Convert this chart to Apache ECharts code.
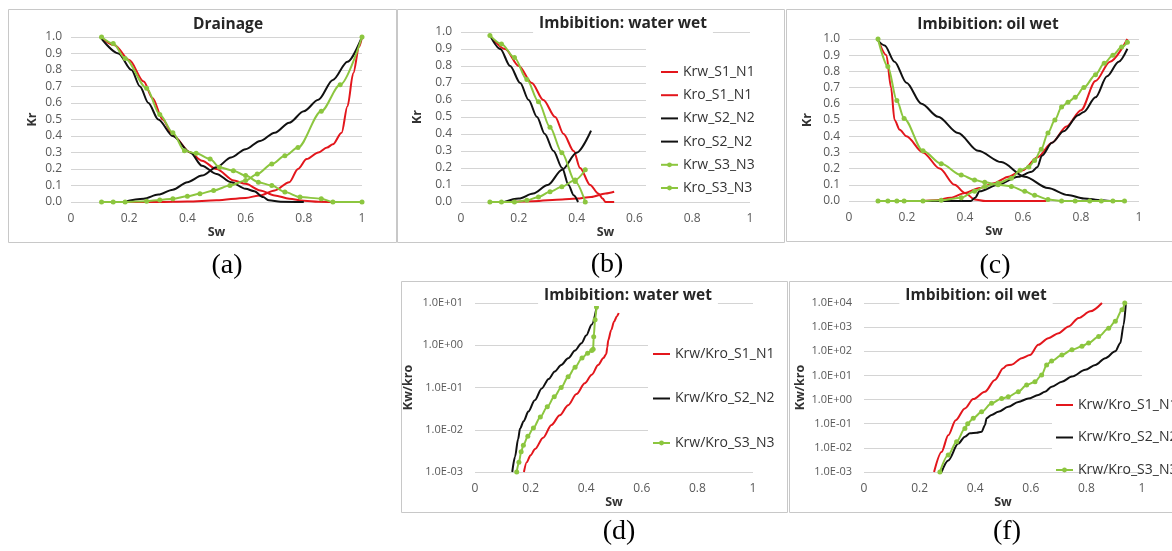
<!DOCTYPE html>
<html><head><meta charset="utf-8">
<script src="https://cdn.jsdelivr.net/npm/echarts@6/dist/echarts.min.js"></script>
<style>html,body{margin:0;padding:0;background:#fff}#c{width:1172px;height:551px}</style>
</head><body><div id="c"></div>
<script>
// ---------- DATA ([Sw, value]) ----------
const xTicks = [0, 0.2, 0.4, 0.6, 0.8, 1];
const panelTitles = ['Drainage', 'Imbibition: water wet', 'Imbibition: oil wet', 'Imbibition: water wet', 'Imbibition: oil wet'];
const captions = ['(a)', '(b)', '(c)', '(d)', '(f)'];
const krNames = ['Krw_S1_N1', 'Kro_S1_N1', 'Krw_S2_N2', 'Kro_S2_N2', 'Krw_S3_N3', 'Kro_S3_N3'];
const ratioNames = ['Krw/Kro_S1_N1', 'Krw/Kro_S2_N2', 'Krw/Kro_S3_N3'];

// (a) Drainage
const drain_Krw_S1_N1 = [[0.1,0],[0.3,0],[0.4,0.003],[0.5,0.01],[0.6,0.025],[0.65,0.04],[0.7,0.07],[0.75,0.12],[0.78,0.2],[0.81,0.26],[0.85,0.3],[0.88,0.33],[0.9,0.35],[0.93,0.42],[0.95,0.58],[0.97,0.78],[0.99,0.94],[1.0,1.0]];
const drain_Kro_S1_N1 = [[0.1,1.0],[0.15,0.95],[0.2,0.86],[0.25,0.73],[0.28,0.63],[0.315,0.5],[0.352,0.4],[0.41,0.3],[0.45,0.25],[0.5,0.2],[0.56,0.13],[0.6,0.11],[0.65,0.07],[0.7,0.04],[0.75,0.02],[0.8,0.008],[0.85,0.002],[0.9,0]];
const drain_Krw_S2_N2 = [[0.18,0],[0.25,0.02],[0.3,0.045],[0.35,0.075],[0.4,0.12],[0.45,0.16],[0.5,0.21],[0.55,0.27],[0.6,0.32],[0.65,0.37],[0.7,0.42],[0.75,0.48],[0.8,0.55],[0.85,0.62],[0.9,0.74],[0.95,0.85],[1.0,1.0]];
const drain_Kro_S2_N2 = [[0.1,1.0],[0.163,0.9],[0.208,0.8],[0.237,0.7],[0.266,0.6],[0.3,0.5],[0.35,0.4],[0.41,0.3],[0.45,0.22],[0.5,0.17],[0.55,0.12],[0.6,0.08],[0.63,0.065],[0.66,0.03],[0.68,0.01],[0.72,0.002],[0.8,0]];
const drain_Krw_S3_N3 = [[0.105,0],[0.145,0],[0.186,0],[0.26,0.005],[0.305,0.012],[0.35,0.02],[0.4,0.035],[0.443,0.05],[0.49,0.07],[0.546,0.1],[0.6,0.13],[0.64,0.17],[0.69,0.23],[0.735,0.28],[0.78,0.33],[0.86,0.55],[0.925,0.71],[1.0,1.0]];
const drain_Kro_S3_N3 = [[0.105,1.0],[0.145,0.96],[0.186,0.87],[0.26,0.69],[0.305,0.53],[0.35,0.42],[0.39,0.31],[0.43,0.295],[0.478,0.26],[0.51,0.21],[0.558,0.19],[0.6,0.16],[0.644,0.12],[0.69,0.1],[0.735,0.06],[0.787,0.03],[0.86,0.02],[0.9,0],[1.0,0]];

// (b) Imbibition: water wet
const ww_Krw_S1_N1 = [[0.15,0],[0.25,0.005],[0.35,0.015],[0.4,0.02],[0.45,0.03],[0.5,0.05],[0.53,0.06]];
const ww_Kro_S1_N1 = [[0.1,0.98],[0.153,0.9],[0.2,0.8],[0.245,0.7],[0.285,0.6],[0.326,0.5],[0.355,0.4],[0.39,0.3],[0.412,0.2],[0.447,0.1],[0.475,0.05],[0.49,0.02],[0.5,0],[0.53,0]];
const ww_Krw_S2_N2 = [[0.15,0],[0.2,0.02],[0.25,0.05],[0.3,0.1],[0.35,0.19],[0.4,0.29],[0.45,0.42]];
const ww_Kro_S2_N2 = [[0.1,0.98],[0.136,0.9],[0.17,0.8],[0.205,0.7],[0.234,0.6],[0.263,0.5],[0.29,0.4],[0.32,0.3],[0.35,0.2],[0.372,0.1],[0.39,0.04],[0.405,0]];
const ww_Krw_S3_N3 = [[0.1,0],[0.14,0],[0.185,0],[0.228,0.01],[0.268,0.03],[0.308,0.06],[0.349,0.09],[0.395,0.13],[0.43,0.19]];
const ww_Kro_S3_N3 = [[0.1,0.98],[0.14,0.93],[0.185,0.85],[0.228,0.72],[0.268,0.59],[0.308,0.44],[0.349,0.29],[0.395,0.12],[0.43,0]];

// (c) Imbibition: oil wet
const ow_Krw_S1_N1 = [[0.25,0],[0.3,0.005],[0.35,0.02],[0.4,0.05],[0.45,0.08],[0.5,0.11],[0.55,0.15],[0.6,0.19],[0.65,0.27],[0.7,0.36],[0.75,0.46],[0.8,0.56],[0.85,0.74],[0.9,0.86],[0.96,1.0]];
const ow_Kro_S1_N1 = [[0.1,1.0],[0.129,0.9],[0.145,0.7],[0.157,0.5],[0.175,0.44],[0.198,0.4],[0.255,0.3],[0.313,0.2],[0.364,0.1],[0.4,0.05],[0.433,0.01],[0.47,0],[0.68,0]];
const ow_Krw_S2_N2 = [[0.1,0],[0.42,0],[0.435,0.02],[0.45,0.06],[0.514,0.1],[0.583,0.15],[0.63,0.18],[0.65,0.21],[0.665,0.28],[0.7,0.36],[0.74,0.43],[0.79,0.53],[0.81,0.55],[0.85,0.64],[0.89,0.77],[0.93,0.86],[0.96,0.94]];
const ow_Kro_S2_N2 = [[0.1,0.99],[0.123,0.96],[0.157,0.86],[0.198,0.73],[0.25,0.6],[0.307,0.52],[0.376,0.42],[0.445,0.31],[0.525,0.24],[0.606,0.15],[0.686,0.08],[0.755,0.037],[0.81,0.016],[0.87,0.005],[0.9,0]];
const ow_Krw_S3_N3 = [[0.1,0],[0.134,0],[0.165,0],[0.19,0],[0.255,0],[0.318,0.005],[0.387,0.02],[0.433,0.06],[0.468,0.09],[0.514,0.11],[0.56,0.14],[0.59,0.19],[0.62,0.21],[0.64,0.25],[0.663,0.32],[0.686,0.42],[0.71,0.5],[0.733,0.58],[0.755,0.61],[0.78,0.64],[0.81,0.7],[0.85,0.78],[0.88,0.85],[0.91,0.9],[0.94,0.95],[0.96,0.98]];
const ow_Kro_S3_N3 = [[0.1,1.0],[0.134,0.83],[0.165,0.62],[0.19,0.51],[0.255,0.31],[0.318,0.23],[0.387,0.16],[0.433,0.13],[0.468,0.115],[0.514,0.1],[0.56,0.09],[0.606,0.06],[0.64,0.035],[0.686,0.01],[0.733,0],[0.78,0],[0.83,0],[0.87,0],[0.91,0],[0.95,0]];

// (d) Krw/Kro water wet
const wwRatio_S1_N1 = [[0.176,0.001],[0.186,0.0017],[0.2,0.0025],[0.216,0.0035],[0.245,0.0065],[0.275,0.013],[0.305,0.022],[0.335,0.038],[0.365,0.07],[0.395,0.126],[0.42,0.2],[0.443,0.34],[0.462,0.5],[0.472,0.62],[0.476,0.9],[0.479,1.3],[0.49,2.3],[0.5,3.6],[0.51,4.8],[0.517,5.8]];
const wwRatio_S2_N2 = [[0.134,0.001],[0.144,0.0023],[0.155,0.006],[0.162,0.0107],[0.175,0.016],[0.192,0.027],[0.215,0.05],[0.24,0.095],[0.265,0.16],[0.287,0.24],[0.31,0.34],[0.335,0.49],[0.36,0.75],[0.383,1.12],[0.4,1.7],[0.42,3.1],[0.437,7.6]];
const wwRatio_S3_N3 = [[0.15,0.001],[0.158,0.0017],[0.166,0.003],[0.174,0.0043],[0.19,0.007],[0.21,0.011],[0.235,0.02],[0.26,0.035],[0.285,0.06],[0.31,0.1],[0.335,0.18],[0.36,0.3],[0.385,0.5],[0.405,0.65],[0.42,0.75],[0.425,0.8],[0.427,1.6],[0.432,4],[0.437,8]];

// (f) Krw/Kro oil wet
const owRatio_S1_N1 = [[0.252,0.001],[0.279,0.0068],[0.303,0.033],[0.33,0.14],[0.363,0.43],[0.393,1.05],[0.435,2.1],[0.471,6.5],[0.501,20],[0.513,26],[0.531,28],[0.567,52],[0.597,70],[0.627,185],[0.663,350],[0.7,560],[0.736,1070],[0.772,2400],[0.814,4500],[0.856,10000]];
const owRatio_S2_N2 = [[0.279,0.001],[0.303,0.003],[0.339,0.015],[0.363,0.029],[0.381,0.04],[0.405,0.042],[0.423,0.046],[0.435,0.087],[0.441,0.17],[0.459,0.23],[0.483,0.31],[0.519,0.5],[0.555,0.8],[0.591,1.1],[0.627,1.55],[0.651,2.1],[0.675,3.4],[0.712,5.5],[0.748,9],[0.796,17],[0.832,27],[0.868,52],[0.904,100],[0.922,220],[0.934,1260],[0.942,10000]];
const owRatio_S3_N3 = [[0.273,0.001],[0.303,0.005],[0.333,0.018],[0.363,0.063],[0.373,0.1],[0.393,0.17],[0.423,0.31],[0.459,0.7],[0.495,1.1],[0.519,1.3],[0.555,2.1],[0.585,4],[0.615,5.5],[0.639,10.5],[0.657,27],[0.675,40],[0.712,70],[0.748,115],[0.784,160],[0.808,220],[0.844,410],[0.88,900],[0.904,1740],[0.928,5300],[0.938,10000]];

// ---------- LAYOUT / STYLE ----------
const RED = '#e3161c', BLACK = '#111111', GREEN = '#8cc63f';
const FONT = '"Open Sans", "Liberation Sans", sans-serif';
const grids = [
  {left: 71, top: 37, width: 291, height: 165},
  {left: 461, top: 32, width: 289, height: 170},
  {left: 849, top: 39, width: 290, height: 162},
  {left: 475, top: 303, width: 278, height: 169},
  {left: 864, top: 303, width: 278, height: 169}
];
const yNameGap = [32, 37, 35, 60, 57];
const xNameGap = [21, 21, 21, 24, 24];
const yNames = ['Kr', 'Kr', 'Kr', 'Kw/kro', 'Kw/kro'];

const tickColor = '#595959';
const gridColor = '#d4d4d4';

function xFmt(v) { return (v === 0 || v === 1) ? String(v) : v.toFixed(1); }
function logFmt(v) {
  const e = Math.round(Math.log10(v));
  return '1.0E' + (e < 0 ? '-' : '+') + String(Math.abs(e)).padStart(2, '0');
}

const xAxis = grids.map((g, i) => ({
  type: 'value', gridIndex: i, min: 0, max: 1, interval: 0.2,
  axisLine: {show: false}, axisTick: {show: false}, splitLine: {show: false},
  axisLabel: {color: tickColor, fontSize: 12, fontFamily: FONT, margin: 11, formatter: xFmt},
  name: 'Sw', nameLocation: 'middle', nameGap: xNameGap[i],
  nameTextStyle: {fontWeight: 'bold', fontSize: 12.5, color: '#333', fontFamily: FONT}
}));
const yAxis = grids.map((g, i) => {
  const base = {
    gridIndex: i,
    axisLine: {show: false}, axisTick: {show: false},
    splitLine: {show: true, lineStyle: {color: gridColor, width: 1}},
    name: yNames[i], nameLocation: 'middle', nameGap: yNameGap[i],
    nameTextStyle: {fontWeight: 'bold', fontSize: 12.5, color: '#333', fontFamily: FONT}
  };
  if (i < 3) {
    return Object.assign(base, {type: 'value', min: 0, max: 1, interval: 0.1,
      axisLabel: {color: tickColor, fontSize: 12, fontFamily: FONT, margin: 9, formatter: v => v.toFixed(1)}});
  }
  return Object.assign(base, {type: 'log', logBase: 10, min: 0.001, max: i === 3 ? 10 : 10000,
    axisLabel: {color: tickColor, fontSize: 11, fontFamily: FONT, margin: 12, formatter: logFmt}});
});

function ln(prefix, name, data, color, gi, marker) {
  return {
    type: 'line', name: prefix + '|' + name, data: data,
    xAxisIndex: gi, yAxisIndex: gi,
    smooth: 0.3, smoothMonotone: 'x',
    symbol: marker ? 'circle' : 'none', symbolSize: 5, showSymbol: !!marker,
    lineStyle: {color: color, width: 2}, itemStyle: {color: color},
    emphasis: {disabled: true}, animation: false
  };
}

const series = [
  ln('a', krNames[0], drain_Krw_S1_N1, RED, 0), ln('a', krNames[1], drain_Kro_S1_N1, RED, 0),
  ln('a', krNames[2], drain_Krw_S2_N2, BLACK, 0), ln('a', krNames[3], drain_Kro_S2_N2, BLACK, 0),
  ln('a', krNames[4], drain_Krw_S3_N3, GREEN, 0, true), ln('a', krNames[5], drain_Kro_S3_N3, GREEN, 0, true),

  ln('b', krNames[0], ww_Krw_S1_N1, RED, 1), ln('b', krNames[1], ww_Kro_S1_N1, RED, 1),
  ln('b', krNames[2], ww_Krw_S2_N2, BLACK, 1), ln('b', krNames[3], ww_Kro_S2_N2, BLACK, 1),
  ln('b', krNames[4], ww_Krw_S3_N3, GREEN, 1, true), ln('b', krNames[5], ww_Kro_S3_N3, GREEN, 1, true),

  ln('c', krNames[0], ow_Krw_S1_N1, RED, 2), ln('c', krNames[1], ow_Kro_S1_N1, RED, 2),
  ln('c', krNames[2], ow_Krw_S2_N2, BLACK, 2), ln('c', krNames[3], ow_Kro_S2_N2, BLACK, 2),
  ln('c', krNames[4], ow_Krw_S3_N3, GREEN, 2, true), ln('c', krNames[5], ow_Kro_S3_N3, GREEN, 2, true),

  ln('d', ratioNames[0], wwRatio_S1_N1, RED, 3), ln('d', ratioNames[1], wwRatio_S2_N2, BLACK, 3),
  ln('d', ratioNames[2], wwRatio_S3_N3, GREEN, 3, true),

  ln('f', ratioNames[0], owRatio_S1_N1, RED, 4), ln('f', ratioNames[1], owRatio_S2_N2, BLACK, 4),
  ln('f', ratioNames[2], owRatio_S3_N3, GREEN, 4, true)
];

// legend items: plain line for red/black, line + small dot for green
const hideDot = {color: 'rgba(0,0,0,0)', borderWidth: 0};
function legendItems(prefix, names) {
  return names.map(n => {
    const green = n.indexOf('S3') >= 0;
    return green ? {name: prefix + '|' + n} : {name: prefix + '|' + n, itemStyle: hideDot};
  });
}
const legendBase = {
  orient: 'vertical', padding: 0, itemWidth: 17, itemHeight: 6,
  textStyle: {fontSize: 14, lineHeight: 14, color: '#333', fontFamily: FONT},
  formatter: n => n.split('|')[1], selectedMode: false
};
const legend = [
  Object.assign({}, legendBase, {left: 660, top: 65, itemGap: 9.2, data: legendItems('b', krNames)}),
  Object.assign({}, legendBase, {left: 652, top: 347, itemGap: 30.5, data: legendItems('d', ratioNames)}),
  Object.assign({}, legendBase, {left: 1055, top: 398, itemGap: 18.5, data: legendItems('f', ratioNames)})
];

// frames, white covers, titles, captions
const frames = [
  [8.5, 9.5, 388, 233], [397.5, 9.5, 387, 233], [786.5, 9.5, 400, 232],
  [401.5, 281.5, 386, 231], [789.5, 281.5, 400, 231]
];
const covers = [[646, 40, 134, 157], [648, 330, 135, 135], [1052, 385, 118, 80]];
const titlePos = [[228, 25, false], [623, 24, true], [988, 25, false], [628, 296, true], [976, 296, true]];
const captionPos = [[227, 266], [607, 265], [995, 266], [619, 532], [1007, 532]];

const graphic = [];
frames.forEach(f => graphic.push({type: 'rect', z: 0, silent: true,
  shape: {x: f[0], y: f[1], width: f[2], height: f[3]},
  style: {fill: 'none', stroke: '#c8c8c8', lineWidth: 1}}));
covers.forEach(c => graphic.push({type: 'rect', z: 1, silent: true,
  shape: {x: c[0], y: c[1], width: c[2], height: c[3]}, style: {fill: '#fff'}}));
titlePos.forEach((p, i) => graphic.push({type: 'text', z: 10, silent: true, x: p[0], y: p[1],
  style: {text: panelTitles[i], fill: '#262626', font: 'bold 15.5px ' + FONT,
    textAlign: 'center', textVerticalAlign: 'middle',
    backgroundColor: p[2] ? '#fff' : 'transparent', padding: [2, 6]}}));
captionPos.forEach((p, i) => graphic.push({type: 'text', z: 10, silent: true, x: p[0], y: p[1],
  style: {text: captions[i], fill: '#000', font: '28px "Liberation Serif", "DejaVu Serif", serif',
    textAlign: 'center', textVerticalAlign: 'middle'}}));

const chart = echarts.init(document.getElementById('c'), null, {renderer: 'canvas'});
chart.setOption({
  backgroundColor: '#fff', animation: false,
  grid: grids, xAxis: xAxis, yAxis: yAxis, series: series, legend: legend, graphic: graphic
});
</script></body></html>
